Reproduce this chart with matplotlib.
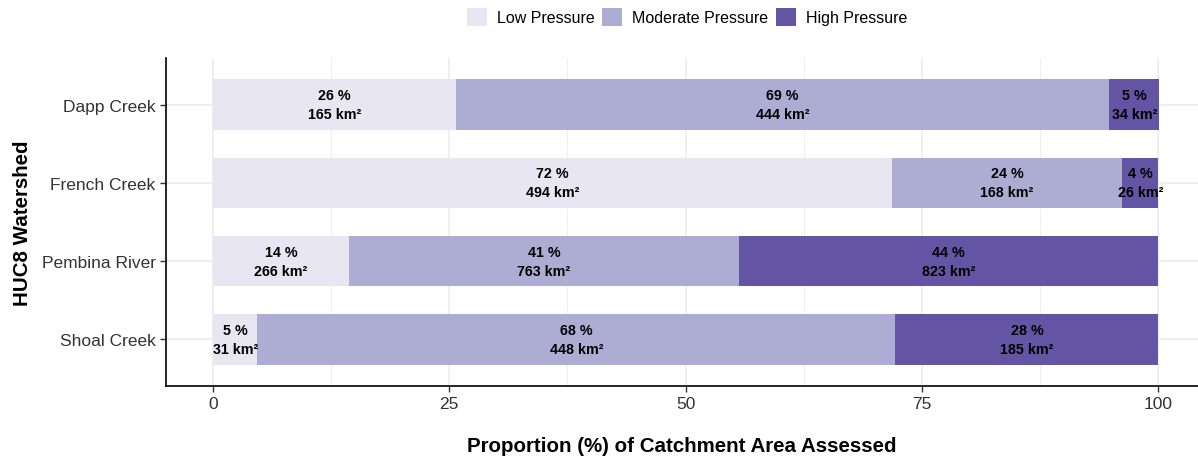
import numpy as np
import matplotlib.pyplot as plt
from matplotlib.patches import Patch

plt.rcParams['font.family'] = ['Liberation Sans', 'DejaVu Sans']

# watersheds, top to bottom
watersheds = ['Dapp Creek', 'French Creek', 'Pembina River', 'Shoal Creek']
levels = ['Low Pressure', 'Moderate Pressure', 'High Pressure']
colors = ['#e8e6f1', '#adadd4', '#6355a3']

# proportion (%) of catchment per pressure class
low_pct = [25.7, 71.8, 14.4, 4.7]
mod_pct = [69.1, 24.4, 41.2, 67.5]
high_pct = [5.3, 3.8, 44.4, 27.8]

# printed labels
low_lab = [26, 72, 14, 5]
mod_lab = [69, 24, 41, 68]
high_lab = [5, 4, 44, 28]
low_km2 = [165, 494, 266, 31]
mod_km2 = [444, 168, 763, 448]
high_km2 = [34, 26, 823, 185]

fig = plt.figure(figsize=(11.98, 4.6), dpi=100)
ax = fig.add_axes([166/1198, 1-387/460, (1198-166)/1198, (387-59)/460])

y = np.arange(len(watersheds))[::-1]
pcts = [low_pct, mod_pct, high_pct]
labs = [low_lab, mod_lab, high_lab]
kms = [low_km2, mod_km2, high_km2]

left = np.zeros(len(watersheds))
for i in range(3):
    vals = np.array(pcts[i])
    ax.barh(y, vals, left=left, height=0.65, color=colors[i], zorder=2)
    for j in range(len(watersheds)):
        cx = left[j] + vals[j] / 2
        ax.text(cx, y[j], f"{labs[i][j]} %\n{kms[i][j]} km²", ha='center', va='center',
                fontsize=10.3, fontweight='bold', color='black', linespacing=1.45, zorder=3)
    left += vals

ax.set_xlim(-4.97, 104.2)
ax.set_ylim(-0.6, 3.6)
ax.set_xticks([0, 25, 50, 75, 100])
ax.set_xticks([12.5, 37.5, 62.5, 87.5], minor=True)
ax.set_yticks(y)
ax.set_yticklabels(watersheds)
ax.tick_params(axis='both', labelsize=12.5, length=4, width=1, color='#333333', labelcolor='#333333')
ax.tick_params(axis='x', which='minor', length=0)
ax.grid(True, which='major', color='#ebebeb', lw=1.1, zorder=0)
ax.grid(True, which='minor', axis='x', color='#ebebeb', lw=0.6, zorder=0)
ax.set_axisbelow(True)
for s in ['top', 'right']:
    ax.spines[s].set_visible(False)
for s in ['left', 'bottom']:
    ax.spines[s].set_linewidth(1.2)
    ax.spines[s].set_color('black')

ax.set_xlabel('Proportion (%) of Catchment Area Assessed', fontsize=14.8, fontweight='bold', labelpad=18)
ax.set_ylabel('HUC8 Watershed', fontsize=14.8, fontweight='bold', labelpad=7)

handles = [Patch(facecolor=c, edgecolor='none') for c in colors]
fig.legend(handles, levels, loc='center', bbox_to_anchor=(687/1198, 1-18/460), ncol=3,
           frameon=False, fontsize=11.5, handlelength=1.25, handleheight=1.3,
           handletextpad=0.6, columnspacing=0.5)

fig.savefig('out.png', dpi=100)
